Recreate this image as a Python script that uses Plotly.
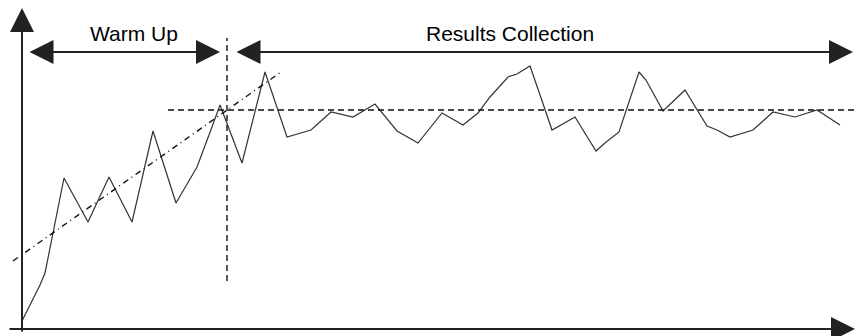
import plotly.graph_objects as go

time = [0, 18, 23, 42, 66, 87, 110, 131, 154, 175, 187, 198, 220, 243, 265, 289, 309,
        331, 353, 375, 396, 420, 441, 456, 468, 486, 495, 508, 517, 530, 553, 574, 583,
        597, 617, 624, 641, 663, 685, 695, 708, 731, 751, 773, 795, 818]
response = [8, 44, 56, 151, 107, 152, 107, 198, 126, 162, 194, 224, 166, 257, 192, 199, 217,
            212, 225, 198, 186, 216, 204, 216, 232, 252, 255, 263, 237, 199, 212, 178, 186,
            197, 257, 249, 218, 239, 203, 199, 192, 199, 217, 212, 219, 204]

# Warm-up trend (dash-dot)
trend_time = [-9, 259]
trend_resp = [68, 257]

# Phase boundary and steady-state level
warmup_end = 205
warmup_span = [48, 291]
steady_level = 219
steady_span = [146, 833]

# Phase labels and their arrow extents
phase_labels = ["Warm Up", "Results Collection"]
phase_start = [6, 213]
phase_end = [198, 831]
phase_y = 277
label_x = [112, 488]
label_y = 296

# Axis extents
x_axis_span = [-14, 833]
y_axis_span = [-4, 321]

fig = go.Figure()
fig.add_trace(go.Scatter(x=time, y=response, mode="lines",
                         line=dict(color="#333333", width=1.2), hoverinfo="skip"))
fig.add_trace(go.Scatter(x=trend_time, y=trend_resp, mode="lines",
                         line=dict(color="#111111", width=1.4, dash="6px,4px,1px,4px"),
                         hoverinfo="skip"))
fig.add_trace(go.Scatter(x=[warmup_end, warmup_end], y=warmup_span, mode="lines",
                         line=dict(color="#111111", width=1.4, dash="6px,4px"), hoverinfo="skip"))
fig.add_trace(go.Scatter(x=steady_span, y=[steady_level, steady_level], mode="lines",
                         line=dict(color="#111111", width=1.4, dash="6px,4px"), hoverinfo="skip"))

HEAD = 2
HSIZE = 2.4
anns = []
# axes arrows
anns.append(dict(x=x_axis_span[1], y=0, ax=x_axis_span[0], ay=0, xref="x", yref="y",
                 axref="x", ayref="y", text="", showarrow=True, arrowhead=HEAD,
                 arrowsize=HSIZE, arrowwidth=2, arrowcolor="#222222"))
anns.append(dict(x=0, y=y_axis_span[1], ax=0, ay=y_axis_span[0], xref="x", yref="y",
                 axref="x", ayref="y", text="", showarrow=True, arrowhead=HEAD,
                 arrowsize=HSIZE, arrowwidth=2, arrowcolor="#222222"))
for s, e in zip(phase_start, phase_end):
    anns.append(dict(x=e, y=phase_y, ax=s, ay=phase_y, xref="x", yref="y",
                     axref="x", ayref="y", text="", showarrow=True, arrowhead=HEAD,
                     startarrowhead=HEAD, arrowside="end+start", arrowsize=HSIZE,
                     startarrowsize=HSIZE, arrowwidth=2, arrowcolor="#222222"))
for t, lx in zip(phase_labels, label_x):
    anns.append(dict(x=lx, y=label_y, xref="x", yref="y", text=t, showarrow=False,
                     xanchor="center", yanchor="middle",
                     font=dict(family="Liberation Sans, Arial", size=21, color="#000000")))

fig.update_layout(
    width=855, height=336, margin=dict(l=0, r=0, t=0, b=0),
    paper_bgcolor="white", plot_bgcolor="white", showlegend=False,
    xaxis=dict(range=[-22, 833], visible=False),
    yaxis=dict(range=[-7, 329], visible=False),
    annotations=anns,
)
fig.write_html("out.html", config={"displayModeBar": False, "staticPlot": True},
               post_script="document.body.style.margin='0';document.body.style.overflow='hidden';")
